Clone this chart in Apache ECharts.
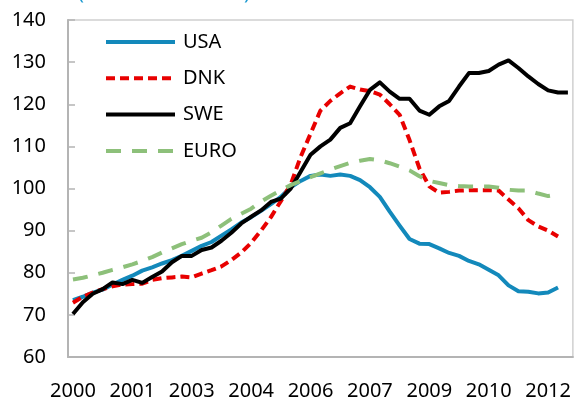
<!DOCTYPE html>
<html>
<head>
<meta charset="utf-8">
<script src="https://cdn.jsdelivr.net/npm/echarts@6/dist/echarts.min.js"></script>
<style>
  html, body { margin: 0; padding: 0; background: #fff; }
  #chart { width: 574px; height: 401px; }
</style>
</head>
<body>
<div id="chart"></div>
<script>
// quarterly, 2000Q1 .. 2012Q3
const quarters = []
for (let y = 2000; y <= 2012; y++) {
  for (let q = 1; q <= 4; q++) {
    if (y === 2012 && q > 3) break
    quarters.push(y + 'Q' + q)
  }
}

const usa = [73.5, 74.3, 75.3, 76.0, 77.2, 78.3, 79.3, 80.5, 81.3, 82.2,
  83.0, 84.0, 85.2, 86.4, 87.3, 88.8, 90.3, 91.9, 93.2, 94.7,
  96.3, 98.0, 100.3, 101.8, 103.0, 103.3, 103.0, 103.3, 103.0, 102.0,
  100.3, 98.0, 94.5, 91.2, 88.0, 86.9, 86.8, 85.8, 84.7, 84.0,
  82.8, 82.0, 80.7, 79.4, 77.0, 75.6, 75.5, 75.1, 75.3, 76.5]

const dnk = [72.9, 74.3, 75.3, 76.1, 76.8, 77.2, 77.3, 77.4, 78.3, 78.7,
  78.9, 79.1, 78.9, 79.8, 80.6, 81.5, 83.0, 84.8, 87.1, 90.0,
  93.2, 97.0, 101.0, 107.5, 113.0, 118.5, 120.8, 122.6, 124.2, 123.5,
  123.1, 122.3, 120.0, 117.5, 111.5, 104.8, 100.5, 99.0, 99.2, 99.5,
  99.6, 99.6, 99.6, 99.5, 97.4, 95.3, 92.5, 91.0, 90.0, 88.6]

const swe = [70.2, 73.0, 75.0, 76.1, 77.7, 77.3, 78.3, 77.6, 79.0, 80.3,
  82.5, 84.0, 84.0, 85.4, 86.0, 87.6, 89.5, 91.7, 93.3, 94.8,
  96.8, 97.6, 100.0, 104.0, 108.0, 110.0, 111.6, 114.4, 115.5, 119.5,
  123.4, 125.2, 123.0, 121.3, 121.3, 118.5, 117.5, 119.5, 120.8, 124.2,
  127.4, 127.4, 127.9, 129.4, 130.4, 128.6, 126.6, 124.8, 123.3, 122.8,
  122.8]

const euro = [78.4, 78.8, 79.4, 80.0, 80.7, 81.3, 82.0, 82.8, 83.7, 84.8,
  85.8, 86.8, 87.6, 88.3, 89.6, 91.2, 92.8, 94.0, 95.2, 96.9,
  98.3, 99.6, 100.8, 101.8, 102.7, 103.6, 104.5, 105.3, 106.1, 106.6,
  107.0, 106.7, 106.0, 105.2, 104.3, 102.9, 101.8, 101.3, 100.8, 100.6,
  100.5, 100.5, 100.5, 100.2, 99.7, 99.5, 99.5, 98.8, 98.2, 98.6]

const font = 'Noto Sans'
const axisGrey = '#b4b4b4'

const chart = echarts.init(document.getElementById('chart'), null, { renderer: 'canvas' })

function line (name, data, color, type, width) {
  return {
    name,
    type: 'line',
    data,
    symbol: 'none',
    smooth: false,
    animation: false,
    lineStyle: { color, width, type, cap: 'butt', join: 'round' },
    itemStyle: { color }
  }
}

chart.setOption({
  animation: false,
  textStyle: { fontFamily: font },
  graphic: [{
    // title text, mostly cut off at the top edge
    type: 'text',
    left: 78,
    top: -17,
    style: {
      text: '(Index 2005 = 100)',
      font: '20px "Noto Sans"',
      fill: '#1f9bd1'
    }
  }],
  grid: {
    left: 68,
    right: 1,
    top: 20,
    bottom: 43,
    show: true,
    borderColor: '#d0d0d0',
    borderWidth: 1.5
  },
  legend: {
    orient: 'vertical',
    left: 99,
    top: 27,
    itemWidth: 69,
    itemHeight: 20,
    itemGap: 16.3,
    itemStyle: { opacity: 0 },
    lineStyle: { width: 4 },
    textStyle: { fontFamily: font, fontSize: 20, color: '#000', padding: [0, 0, 0, 3] },
    data: ['USA', 'DNK', 'SWE', 'EURO']
  },
  xAxis: {
    type: 'category',
    data: quarters,
    boundaryGap: true,
    axisLine: { lineStyle: { color: axisGrey, width: 2 } },
    axisTick: { inside: true, length: 6, interval: 5, lineStyle: { color: axisGrey, width: 1.5 } },
    axisLabel: {
      interval: 5,
      margin: 24,
      fontSize: 20,
      color: '#000',
      fontFamily: font,
      formatter: v => v.slice(0, 4)
    },
    splitLine: { show: false }
  },
  yAxis: {
    type: 'value',
    min: 60,
    max: 140,
    interval: 10,
    axisLine: { show: true, lineStyle: { color: axisGrey, width: 2 } },
    axisTick: { show: true, inside: true, length: 7, lineStyle: { color: axisGrey, width: 1.5 } },
    axisLabel: { margin: 22, fontSize: 20, color: '#000', fontFamily: font },
    splitLine: { show: false }
  },
  series: [
    line('USA', usa, '#1389bb', 'solid', 4),
    line('DNK', dnk, '#e80000', [9, 5], 4),
    line('SWE', swe, '#000000', 'solid', 4),
    line('EURO', euro, '#8dc07a', [15, 11], 4)
  ]
})
</script>
</body>
</html>
